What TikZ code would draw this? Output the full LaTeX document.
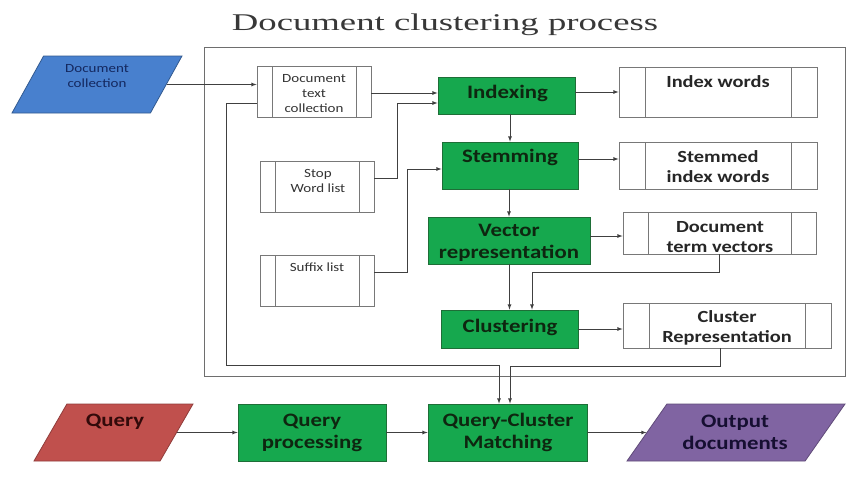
\documentclass[tikz,border=0pt]{standalone}
\usepackage{fontspec}
\setmainfont{Carlito}[FakeStretch=1.2]
\newfontfamily\headfont{Liberation Serif}[FakeStretch=1.53]
\usetikzlibrary{arrows,calc,shapes.geometric}
\definecolor{StepClr}{RGB}{22,168,78}
\definecolor{StepEdge}{RGB}{30,110,55}
\definecolor{StepTxt}{RGB}{14,38,16}
\definecolor{DocClr}{RGB}{72,128,206}
\definecolor{DocTxt}{RGB}{20,40,95}
\definecolor{QueryClr}{RGB}{192,80,77}
\definecolor{QueryTxt}{RGB}{50,10,10}
\definecolor{OutClr}{RGB}{128,100,162}
\definecolor{OutTxt}{RGB}{22,15,50}
\definecolor{LineClr}{RGB}{64,64,64}
\definecolor{FrameClr}{RGB}{110,110,110}
\definecolor{ListClr}{RGB}{120,120,120}

\begin{document}
\begin{tikzpicture}[x=1pt,y=-1pt,
  link/.style={draw=LineClr,line width=.8pt,-latex},
  stepbox/.style={draw=StepEdge,fill=StepClr,line width=.8pt,inner sep=0pt},
  steptxt/.style={text=StepTxt,font=\fontsize{19}{22}\selectfont\bfseries,align=center},
  listbox/.style={draw=ListClr,fill=white,line width=.8pt,inner sep=0pt,
    path picture={\draw[ListClr,line width=.8pt]
      ([xshift=\barw]path picture bounding box.north west) -- ([xshift=\barw]path picture bounding box.south west)
      ([xshift=-\barw]path picture bounding box.north east) -- ([xshift=-\barw]path picture bounding box.south east);}},
  bars/.store in=\barw, bars=15pt,
  listtxt/.style={text=black!85,font=\fontsize{17}{20}\selectfont\bfseries,align=center},
  smalltxt/.style={text=black!80,font=\fontsize{12.5}{15}\selectfont,align=center},
  iobox/.style={trapezium,trapezium stretches body,line width=.8pt,inner sep=0pt,text height=57pt,text depth=0pt},
]
\useasboundingbox (0,0) rectangle (854,479);
\fill[white] (0,0) rectangle (854,479);

\node[font=\headfont\fontsize{24}{28}\selectfont,text=black!78,anchor=base] (title) at (445,30) {Document clustering process};

\draw[FrameClr,line width=1pt] (204,47) rectangle (845,376);

% inputs and lists
\node[iobox,trapezium left angle=61,trapezium right angle=119,draw=DocClr!70!black,fill=DocClr,
  minimum width=170pt] (doccoll) at (97,84.5) {};
\node[smalltxt,text=DocTxt] (doccoll-t) at (97,76.5) {Document\\collection};

\node[listbox,minimum width=114pt,minimum height=51pt] (dtc) at (314,91.5) {};
\node[smalltxt] (dtc-t) at (314,93.5) {Document\\text\\collection};
\node[listbox,minimum width=114pt,minimum height=51pt] (stopw) at (317,186.5) {};
\node[smalltxt] (stopw-t) at (318,180.5) {Stop\\Word list};
\node[listbox,minimum width=114pt,minimum height=51pt] (suffix) at (317,280.5) {};
\node[smalltxt] (suffix-t) at (317,267) {Suffix list};

% processing steps
\node[stepbox,minimum width=137pt,minimum height=37pt] (idx) at (506.5,95.5) {};
\node[steptxt] (idx-t) at (507.5,93) {Indexing};
\node[stepbox,minimum width=136pt,minimum height=47pt] (stem) at (510,165.5) {};
\node[steptxt] (stem-t) at (510,157) {Stemming};
\node[stepbox,minimum width=162pt,minimum height=47pt] (vec) at (509,240.5) {};
\node[steptxt] (vec-t) at (509,243) {Vector\\representation};
\node[stepbox,minimum width=137pt,minimum height=38pt] (clus) at (509.5,329) {};
\node[steptxt] (clus-t) at (510,327) {Clustering};

% outputs of each step
\node[listbox,bars=26pt,minimum width=198pt,minimum height=50pt] (idxw) at (718,92) {};
\node[listtxt] (idxw-t) at (718,82) {Index words};
\node[listbox,bars=26pt,minimum width=198pt,minimum height=47pt] (stemw) at (718,165.5) {};
\node[listtxt] (stemw-t) at (718,167) {Stemmed\\index words};
\node[listbox,bars=25pt,minimum width=193pt,minimum height=42pt] (dtv) at (719.5,233) {};
\node[listtxt] (dtv-t) at (720,237) {Document\\term vectors};
\node[listbox,bars=26pt,minimum width=208pt,minimum height=45pt] (crep) at (727,325.5) {};
\node[listtxt] (crep-t) at (727,328) {Cluster\\Representation};

% query row
\node[iobox,trapezium left angle=60,trapezium right angle=120,draw=QueryClr!75!black,fill=QueryClr,
  minimum width=159pt] (query) at (113.5,432.5) {};
\node[steptxt,text=QueryTxt] (query-t) at (115,422) {Query};
\node[stepbox,minimum width=148pt,minimum height=57pt] (qproc) at (312,432.5) {};
\node[steptxt] (qproc-t) at (312,432.5) {Query\\processing};
\node[stepbox,minimum width=159pt,minimum height=57pt] (qcm) at (507.5,432.5) {};
\node[steptxt] (qcm-t) at (508,432.5) {Query-Cluster\\Matching};
\node[iobox,trapezium left angle=55,trapezium right angle=125,draw=OutClr!75!black,fill=OutClr,
  minimum width=218pt] (outdoc) at (736,432.5) {};
\node[steptxt,text=OutTxt] (outdoc-t) at (735,432.5) {Output\\documents};

\coordinate (idx-in1) at ([yshift=2.5pt]idx.west);
\coordinate (idx-in2) at ([yshift=-7.5pt]idx.west);
\coordinate (qcm-in1) at ([xshift=-8.5pt]qcm.north);
\coordinate (qcm-in2) at ([xshift=2.5pt]qcm.north);

\draw[link] (doccoll.east) -- (doccoll.east -| dtc.west);
\draw[link] (dtc.east |- idx-in1) -- (idx-in1);
\draw[link] ([yshift=8.5pt]stopw.east) -- ++(23,0) |- (idx-in2);
\draw[link] ([yshift=8.5pt]suffix.east) -- ++(33,0) |- ([yshift=-3.5pt]stem.west);
\draw[link] (idx.east |- idxw.west) -- (idxw.west);
\draw[link] (stem.north |- idx.south) -- (stem.north);
\draw[link] ([yshift=6.5pt]stem.east) -- ([yshift=6.5pt]stemw.west);
\draw[link] (vec.north |- stem.south) -- (vec.north);
\draw[link] ([yshift=4.5pt]vec.east) -- ([yshift=-3pt]dtv.west);
\draw[link] (clus.north |- vec.south) -- (clus.north);
\draw[link] (dtv.south) -- ++(0,18) -| ([xshift=22.5pt]clus.north);
\draw[link] (clus.east) -- (clus.east -| crep.west);
\draw[link] ([yshift=-11.5pt]dtc.west) -- ++(-30,0) |- ([yshift=38pt]qcm-in1) -- (qcm-in1);
\draw[link] ([xshift=-7pt]crep.south) -- ++(0,18) -| (qcm-in2);
\draw[link] (query.east) -- (qproc.west);
\draw[link] (qproc.east) -- (qcm.west);
\draw[link] (qcm.east) -- (outdoc.west);

\end{tikzpicture}
\end{document}
